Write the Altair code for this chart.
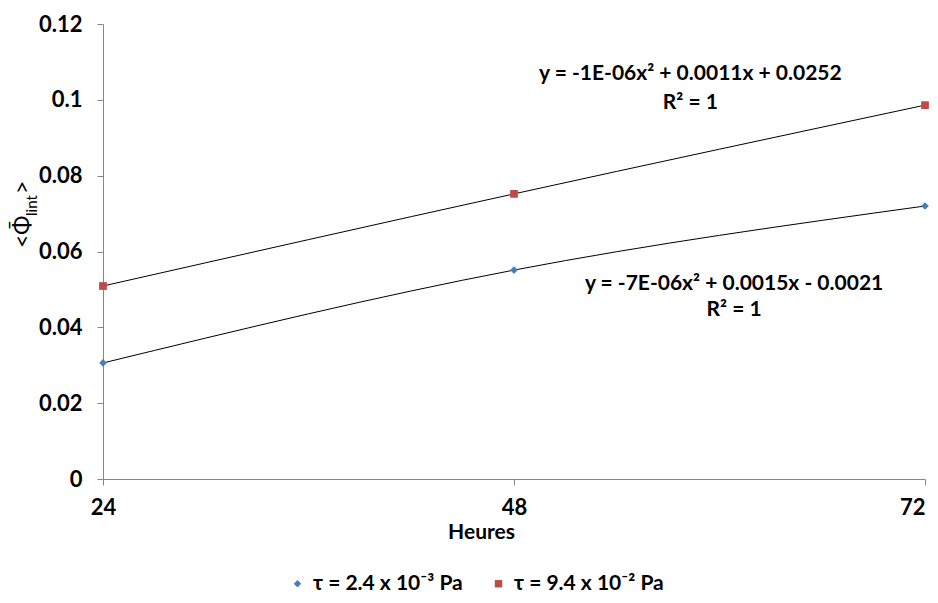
import altair as alt
import pandas as pd

# ---- data ----
hours = [24, 48, 72]
series_names = ["τ = 2.4 x 10⁻³ Pa", "τ = 9.4 x 10⁻² Pa"]
values_low = [0.0306, 0.0551, 0.0720]
values_high = [0.0509, 0.0752, 0.0986]
colors = ["#4A7EBB", "#BE4B48"]
shapes = ["diamond", "square"]
x_ticks = [24, 48, 72]
y_ticks = [0, 0.02, 0.04, 0.06, 0.08, 0.1, 0.12]

eq_text = ["y = -1E-06x² + 0.0011x + 0.0252", "R² = 1",
           "y = -7E-06x² + 0.0015x - 0.0021", "R² = 1"]
eq_x = [58.3, 58.3, 60.85, 60.85]
eq_y = [0.1068, 0.0992, 0.0514, 0.0446]

FONT = "Lato"

rows = []
for name, vals in zip(series_names, [values_low, values_high]):
    for h, v in zip(hours, vals):
        rows.append({"Heures": h, "val": v, "serie": name})
df = pd.DataFrame(rows)

eq_df = pd.DataFrame({"x": eq_x, "y": eq_y, "t": eq_text})

xscale = alt.Scale(domain=[24, 72], nice=False, zero=False)
yscale = alt.Scale(domain=[0, 0.12], nice=False)

base = alt.Chart(df)

lines = base.mark_line(color="#000000", strokeWidth=1, interpolate="natural").encode(
    x=alt.X("Heures:Q", scale=xscale,
            axis=alt.Axis(values=x_ticks, title="Heures", grid=False,
                          labelFont=FONT, labelFontSize=22, labelFontWeight="bold",
                          labelColor="#000000", labelPadding=12,
                          labelAlign=alt.expr("datum.value == 72 ? 'right' : 'center'"),
                          titleFont=FONT, titleFontSize=21, titleFontWeight="bold",
                          titleColor="#000000", titleX=378, titleY=42,
                          domainColor="#868686", tickColor="#868686", tickSize=6,
                          labelFlush=False)),
    y=alt.Y("val:Q", scale=yscale,
            axis=alt.Axis(values=y_ticks, title=None, grid=False,
                          format=".2~f",
                          labelFont=FONT, labelFontSize=22, labelFontWeight="bold",
                          labelColor="#000000", labelPadding=15,
                          domainColor="#868686", tickColor="#868686", tickSize=6)),
    detail="serie:N",
)

points = base.mark_point(filled=True, size=60, opacity=1).encode(
    x=alt.X("Heures:Q", scale=xscale),
    y=alt.Y("val:Q", scale=yscale),
    color=alt.Color("serie:N",
                    scale=alt.Scale(domain=series_names, range=colors),
                    legend=alt.Legend(title=None, orient="none", direction="horizontal",
                                      legendX=184, legendY=549,
                                      labelFont=FONT, labelFontSize=21,
                                      labelFontWeight="bold", labelColor="#000000",
                                      symbolSize=55, columnPadding=25, labelOffset=5,
                                      labelLimit=400)),
    shape=alt.Shape("serie:N",
                    scale=alt.Scale(domain=series_names, range=shapes),
                    legend=None),
)

eqs = alt.Chart(eq_df).mark_text(font=FONT, fontSize=21, fontWeight="bold",
                                 color="#000000", align="center",
                                 baseline="middle").encode(
    x=alt.X("x:Q", scale=xscale),
    y=alt.Y("y:Q", scale=yscale),
    text="t:N",
)

ylab_main = alt.Chart(pd.DataFrame({"t": ["<Φ̄"]})).mark_text(
    font=FONT, fontSize=23, color="#000000", angle=270,
    align="left", baseline="middle").encode(
    x=alt.value(-80), y=alt.value(224), text="t:N")
ylab_sub = alt.Chart(pd.DataFrame({"t": ["lint"]})).mark_text(
    font=FONT, fontSize=15, color="#000000", angle=270,
    align="left", baseline="middle").encode(
    x=alt.value(-71), y=alt.value(192), text="t:N")
ylab_end = alt.Chart(pd.DataFrame({"t": [">"]})).mark_text(
    font=FONT, fontSize=23, color="#000000", angle=270,
    align="left", baseline="middle").encode(
    x=alt.value(-80), y=alt.value(170), text="t:N")

chart = alt.layer(lines, points, eqs, ylab_main, ylab_sub, ylab_end).properties(
    width=822, height=455,
    autosize=alt.AutoSizeParams(type="none"),
    padding={"left": 95, "top": 16, "right": 5, "bottom": 116},
    background="#ffffff",
).configure_view(stroke=None)

chart.save("out.html", embed_options={"renderer": "svg", "actions": False})
